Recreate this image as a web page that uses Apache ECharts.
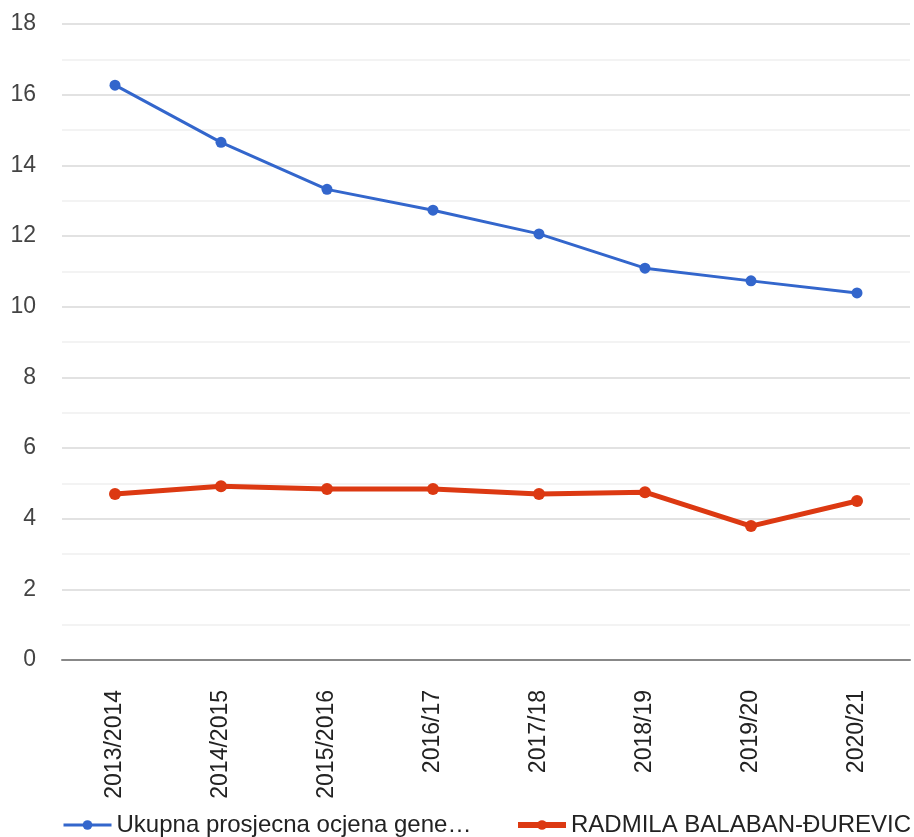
<!DOCTYPE html>
<html>
<head>
<meta charset="utf-8">
<script src="https://cdn.jsdelivr.net/npm/echarts@6/dist/echarts.min.js"></script>
<style>
html,body{margin:0;padding:0;background:#fff;}
#chart{width:914px;height:837px;}
</style>
</head>
<body>
<div id="chart"></div>
<script>
const categories = ['2013/2014','2014/2015','2015/2016','2016/17','2017/18','2018/19','2019/20','2020/21'];
const seriesNames = ['Ukupna prosjecna ocjena gene\u2026', 'RADMILA BALABAN-ĐUREVIC'];
const totalAvg = [16.27, 14.65, 13.32, 12.73, 12.06, 11.09, 10.73, 10.39];
const radmila = [4.70, 4.92, 4.84, 4.84, 4.70, 4.75, 3.79, 4.50];
const yTicks = {min: 0, max: 18, interval: 2};

const chart = echarts.init(document.getElementById('chart'), null, {renderer: 'canvas'});
const font = 'Arial, "Liberation Sans", sans-serif';
chart.setOption({
  animation: false,
  backgroundColor: '#ffffff',
  grid: {left: 62, right: 4, top: 24, bottom: 177, containLabel: false},
  legend: [
    {data: [seriesNames[0]], left: 62, top: 813, padding: 0, itemWidth: 48, itemHeight: 12, itemGap: 10,
     lineStyle: {width: 3}, textStyle: {fontFamily: font, fontSize: 24, color: '#222'}},
    {data: [seriesNames[1]], left: 515, top: 813, padding: 0, itemWidth: 48, itemHeight: 12, itemGap: 10,
     lineStyle: {width: 6}, textStyle: {fontFamily: font, fontSize: 24, color: '#222'}}
  ],
  xAxis: {
    type: 'category',
    data: categories,
    boundaryGap: true,
    axisTick: {show: false},
    axisLine: {show: true, lineStyle: {color: '#888', width: 2}},
    axisLabel: {rotate: 90, margin: 30, fontFamily: font, fontSize: 23, color: '#222', interval: 0}
  },
  yAxis: {
    type: 'value',
    min: yTicks.min, max: yTicks.max, interval: yTicks.interval,
    axisLine: {show: false},
    axisTick: {show: false},
    axisLabel: {margin: 26, fontFamily: font, fontSize: 23, color: '#444'},
    splitLine: {show: true, lineStyle: {color: '#d9d9d9', width: 1.5}},
    minorTick: {show: false, splitNumber: 2},
    minorSplitLine: {show: true, lineStyle: {color: '#efefef', width: 1.5}}
  },
  series: [
    {name: seriesNames[0], type: 'line', data: totalAvg, color: '#3366cc',
     symbol: 'circle', symbolSize: 11, lineStyle: {width: 3, color: '#3366cc'},
     itemStyle: {color: '#3366cc'}, z: 3},
    {name: seriesNames[1], type: 'line', data: radmila, color: '#dc3912',
     symbol: 'circle', symbolSize: 12, lineStyle: {width: 5, color: '#dc3912'},
     itemStyle: {color: '#dc3912'}, z: 4}
  ]
});
</script>
</body>
</html>
